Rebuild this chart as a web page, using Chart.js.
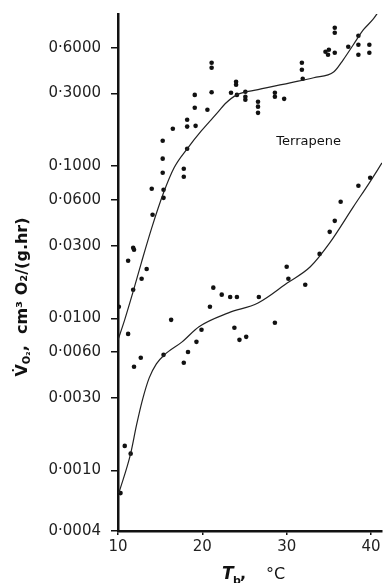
<!DOCTYPE html>
<html><head><meta charset="utf-8">
<script src="https://cdn.jsdelivr.net/npm/chart.js@4/dist/chart.umd.min.js"></script>
<style>html,body{margin:0;padding:0;background:#fff;}canvas{display:block;}</style>
</head><body>
<canvas id="c" width="386" height="583"></canvas>
<script>
// Upper group of measurements (body temperature °C, VO2 cm3 O2/(g.hr))
const upperTemp = [10.1,11.2,11.2,11.8,11.8,11.9,12.8,13.4,14.0,14.1,15.3,15.3,15.3,15.4,15.4,16.5,17.8,17.8,18.2,18.2,18.2,19.1,19.1,19.2,20.6,21.1,21.1,21.1,23.4,24.0,24.0,24.1,25.1,25.1,25.1,26.6,26.6,26.6,28.6,28.6,29.7,31.8,31.8,31.9,34.6,34.9,35.0,35.7,35.7,35.7,37.3,38.5,38.5,38.5,39.8,39.8];
const upperRate = [0.0119,0.0079,0.0239,0.0154,0.0291,0.0282,0.0182,0.0211,0.0710,0.0479,0.0904,0.112,0.147,0.0619,0.0699,0.176,0.0851,0.0961,0.130,0.182,0.202,0.242,0.294,0.184,0.235,0.306,0.443,0.478,0.304,0.343,0.359,0.294,0.273,0.286,0.308,0.224,0.246,0.265,0.286,0.304,0.277,0.430,0.478,0.375,0.565,0.540,0.582,0.556,0.753,0.812,0.609,0.540,0.628,0.720,0.556,0.628];
// Lower group of measurements
const lowerTemp = [10.3,10.8,11.5,11.9,12.7,15.4,16.3,17.8,18.3,19.3,19.9,20.9,21.3,22.3,23.3,23.8,24.1,24.4,25.2,26.7,28.6,30.0,30.2,32.2,33.9,35.1,35.7,36.4,38.5,39.9];
const lowerRate = [0.00071,0.00145,0.00129,0.0048,0.0055,0.00575,0.00977,0.0051,0.0060,0.0070,0.0084,0.0119,0.0159,0.0143,0.0138,0.00866,0.0138,0.00722,0.00755,0.0138,0.00934,0.0218,0.0182,0.0166,0.0265,0.0370,0.0437,0.0583,0.0743,0.0839];
// Hand-fitted curves
const upperCurveTemp = [10.0,10.8,11.75,12.8,14.0,15.4,16.65,18.2,19.9,21.9,22.7,24.1,26.6,30.4,33.2,35.6,36.7,37.9,39.1,40.2,40.8];
const upperCurveRate = [0.0072,0.0098,0.0147,0.0235,0.0393,0.0668,0.0976,0.130,0.171,0.228,0.257,0.294,0.318,0.353,0.381,0.417,0.500,0.628,0.788,0.917,1.02];
const lowerCurveTemp = [10.1,11.5,12.2,12.9,13.7,14.55,15.5,17.6,19.6,23.1,26.6,30.1,32.8,35.1,37.9,39.8,41.3];
const lowerCurveRate = [0.00071,0.00129,0.00199,0.00291,0.00406,0.00502,0.00575,0.0070,0.0088,0.01086,0.0126,0.0171,0.0218,0.0313,0.054,0.0777,0.105];
// Axis ticks
const yTickValues = [0.0004,0.001,0.003,0.006,0.01,0.03,0.06,0.1,0.3,0.6];
const yTickLabels = ['0·0004','0·0010','0·0030','0·0060','0·0100','0·0300','0·0600','0·1000','0·3000','0·6000'];
const xTickValues = [10,20,30,40];
const xTickLabels = ['10','20','30','40'];
const seriesLabel = 'Terrapene';
const labelAt = {t:32.6, v:0.145};

const pts = (xs, ys) => xs.map((x,i)=>({x:x, y:ys[i]}));
const FONT = '"DejaVu Sans", sans-serif';

const textPlugin = {
  id:'texts',
  afterDraw(chart){
    const c = chart.ctx, xs = chart.scales.x, ys = chart.scales.y;
    c.save();
    c.fillStyle = '#111';
    c.font = '13px ' + FONT; c.textAlign='center'; c.textBaseline='middle';
    c.fillText(seriesLabel, xs.getPixelForValue(labelAt.t), ys.getPixelForValue(labelAt.v));
    c.save();
    c.translate(23, 297); c.rotate(-Math.PI/2);
    const parts = [
      {t:'V̇', f:'600 16px '+FONT, dy:0},
      {t:'O', f:'600 10px '+FONT, dy:4},
      {t:'₂', f:'600 10px '+FONT, dy:4},
      {t:',  cm³ O₂/(g.hr)', f:'600 16px '+FONT, dy:0}
    ];
    let W = 0;
    parts.forEach(p=>{c.font=p.f; p.w=c.measureText(p.t).width; W+=p.w;});
    let x = -W/2; c.textAlign='left'; c.textBaseline='middle';
    parts.forEach(p=>{c.font=p.f; c.fillText(p.t, x, p.dy); x+=p.w;});
    c.restore();
    c.textAlign='left'; c.textBaseline='alphabetic';
    c.font = 'italic 600 17px ' + FONT; c.fillText('T', 222, 579);
    c.font = '600 11px ' + FONT; c.fillText('b', 233, 584);
    c.font = '600 16px ' + FONT; c.fillText(',', 240, 579);
    c.font = '16px ' + FONT; c.fillText('°C', 266, 579);
    c.restore();
  }
};

new Chart(document.getElementById('c'), {
  type:'scatter',
  data:{datasets:[
    {data:pts(upperCurveTemp, upperCurveRate), showLine:true, pointRadius:0, borderColor:'#222', borderWidth:1.2, cubicInterpolationMode:'monotone', fill:false},
    {data:pts(lowerCurveTemp, lowerCurveRate), showLine:true, pointRadius:0, borderColor:'#222', borderWidth:1.2, cubicInterpolationMode:'monotone', fill:false},
    {data:pts(upperTemp, upperRate), showLine:false, pointRadius:2.3, pointBackgroundColor:'#111', pointBorderWidth:0},
    {data:pts(lowerTemp, lowerRate), showLine:false, pointRadius:2.3, pointBackgroundColor:'#111', pointBorderWidth:0}
  ]},
  options:{
    responsive:false, animation:false, devicePixelRatio:1,
    layout:{padding:{top:14, right:0, left:0, bottom:0}},
    plugins:{legend:{display:false}, tooltip:{enabled:false}},
    scales:{
      x:{type:'linear', min:10, max:41.3,
        afterBuildTicks:s=>{s.ticks = xTickValues.map(v=>({value:v}));},
        afterFit:s=>{s.height = 52;},
        ticks:{autoSkip:false, maxRotation:0, padding:3, color:'#222', font:{family:FONT, size:15}, callback:(v,i)=>xTickLabels[i]},
        grid:{drawOnChartArea:false, tickLength:4, color:'#111', lineWidth:1.5},
        border:{color:'#111', width:2.5}
      },
      y:{type:'logarithmic', min:0.0004, max:1.0,
        afterBuildTicks:s=>{s.ticks = yTickValues.map(v=>({value:v}));},
        afterFit:s=>{s.width = 118; s.paddingTop = 0; s.paddingBottom = 0;},
        ticks:{autoSkip:false, padding:10, color:'#222', font:{family:FONT, size:15}, callback:(v,i)=>yTickLabels[i]},
        grid:{drawOnChartArea:false, tickLength:7, color:'#111', lineWidth:1.5},
        border:{color:'#111', width:2.5}
      }
    }
  },
  plugins:[textPlugin]
});
</script>
</body></html>
